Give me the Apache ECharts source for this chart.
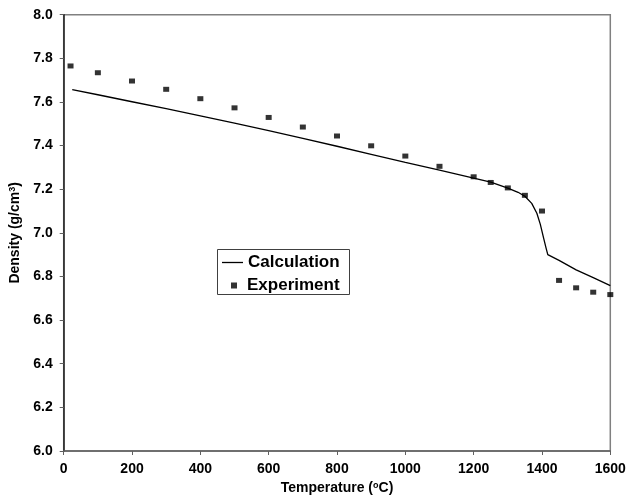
<!DOCTYPE html>
<html>
<head>
<meta charset="utf-8">
<script src="https://cdn.jsdelivr.net/npm/echarts@6/dist/echarts.min.js"></script>
<style>html,body{margin:0;padding:0;background:#fff}#c{width:628px;height:497px}</style>
</head>
<body>
<div id="c"></div>
<script>
// Experiment data
var expTemp = [20, 100, 200, 300, 400, 500, 600, 700, 800, 900, 1000, 1100, 1200, 1250, 1300, 1350, 1400, 1450, 1500, 1550, 1600];
var expDensity = [7.765, 7.734, 7.696, 7.658, 7.615, 7.573, 7.529, 7.485, 7.444, 7.399, 7.352, 7.305, 7.257, 7.231, 7.206, 7.172, 7.100, 6.782, 6.748, 6.728, 6.717];
// Calculation curve
var calcTemp = [25, 100, 200, 300, 400, 500, 600, 700, 800, 900, 1000, 1100, 1200, 1250, 1300, 1330, 1350, 1370, 1385, 1395, 1405, 1412, 1417, 1450, 1500, 1550, 1600];
var calcDensity = [7.657, 7.633, 7.601, 7.569, 7.536, 7.503, 7.469, 7.433, 7.397, 7.360, 7.323, 7.287, 7.251, 7.232, 7.205, 7.186, 7.168, 7.135, 7.090, 7.040, 6.975, 6.930, 6.900, 6.874, 6.830, 6.795, 6.758];
var xTicks = {min: 0, max: 1600, interval: 200};
var yTicks = {min: 6.0, max: 8.0, interval: 0.2};

var chart = echarts.init(document.getElementById('c'));
var font = 'Arial, "Liberation Sans", sans-serif';
chart.setOption({
  animation: false,
  backgroundColor: '#fff',
  grid: {left: 63.7, right: 17.7, top: 14.7, bottom: 46, show: true, borderColor: '#808080', borderWidth: 1.5,
         containLabel: false, outerBoundsMode: 'none'},
  xAxis: {
    type: 'value', min: xTicks.min, max: xTicks.max, interval: xTicks.interval,
    name: 'Temperature ({s|o}C)', nameLocation: 'middle', nameGap: 28,
    nameTextStyle: {fontFamily: font, fontWeight: 'bold', fontSize: 14, color: '#000',
      rich: {s: {fontFamily: font, fontWeight: 'bold', fontSize: 9, color: '#000', verticalAlign: 'top', padding: [0,0,6,0]}}},
    axisLine: {lineStyle: {color: '#606060', width: 1.5}},
    axisTick: {show: true, length: 4, lineStyle: {color: '#606060'}},
    axisLabel: {fontFamily: font, fontWeight: 'bold', fontSize: 14, color: '#000', margin: 11,
      formatter: function (v) { return String(v); }},
    splitLine: {show: false}
  },
  yAxis: {
    type: 'value', min: yTicks.min, max: yTicks.max, interval: yTicks.interval,
    name: 'Density (g/cm{s|3})', nameLocation: 'middle', nameGap: 39,
    nameTextStyle: {fontFamily: font, fontWeight: 'bold', fontSize: 14, color: '#000',
      rich: {s: {fontFamily: font, fontWeight: 'bold', fontSize: 9, color: '#000', verticalAlign: 'top', padding: [0,0,6,0]}}},
    axisLine: {show: true, lineStyle: {color: '#202020', width: 1.5}},
    axisTick: {show: true, length: 4, lineStyle: {color: '#606060'}},
    axisLabel: {fontFamily: font, fontWeight: 'bold', fontSize: 14, color: '#000', margin: 11,
      formatter: function (v) { return v.toFixed(1); }},
    splitLine: {show: false}
  },
  legend: [
    {data: [{name: 'Calculation', icon: 'rect'}], left: 222, top: 254, padding: 0, itemWidth: 21, itemHeight: 1.3,
     textStyle: {fontFamily: font, fontWeight: 'bold', fontSize: 17, color: '#000'}},
    {data: [{name: 'Experiment', icon: 'rect'}], left: 231, top: 277, padding: 0, itemWidth: 6, itemHeight: 6,
     textStyle: {fontFamily: font, fontWeight: 'bold', fontSize: 17, color: '#000', padding: [0, 0, 0, 5]}}
  ],
  graphic: [{type: 'rect', shape: {x: 217.5, y: 249.5, width: 132, height: 45}, style: {fill: null, stroke: '#404040', lineWidth: 1}, z: 10}],
  series: [
    {name: 'Calculation', type: 'line', data: calcTemp.map(function (t, i) { return [t, calcDensity[i]]; }),
     symbol: 'none', showSymbol: false, lineStyle: {color: '#000', width: 1.3}, itemStyle: {color: '#000'}},
    {name: 'Experiment', type: 'scatter', data: expTemp.map(function (t, i) { return [t, expDensity[i]]; }),
     symbol: 'rect', symbolSize: [6, 5], itemStyle: {color: '#000'}}
  ]
});
</script>
</body>
</html>
